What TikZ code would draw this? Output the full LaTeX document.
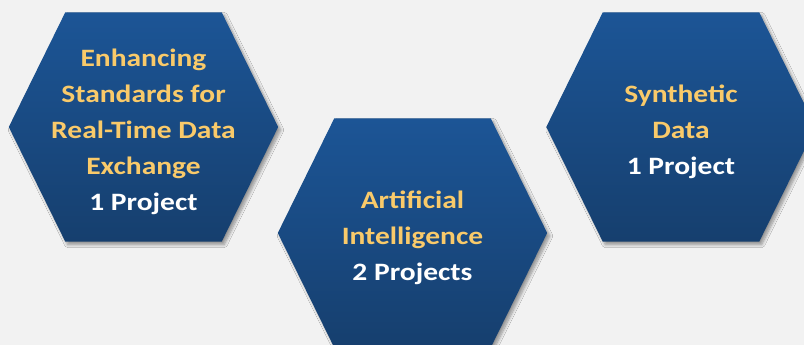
\documentclass[tikz,border=0pt]{standalone}
\usepackage{fontspec}
\setmainfont{Carlito}[FakeStretch=1.18]
\usetikzlibrary{backgrounds,shadows.blur}

\definecolor{pagegray}{RGB}{242,242,242}
\definecolor{hexgold}{RGB}{249,202,106}
\definecolor{hextop}{RGB}{28,85,150}
\definecolor{hexbot}{RGB}{22,63,110}

\begin{document}
\begin{tikzpicture}[x=1pt,y=-1pt,node font=\bfseries\fontsize{25}{36}\selectfont]
	\tikzset{hexcell/.style={rectangle,minimum width=269pt,minimum height=229pt,inner sep=0pt,text=hexgold,align=center},
		hexfill/.style={top color=hextop,bottom color=hexbot,
		blur shadow={shadow xshift=2.5pt,shadow yshift=-3pt,shadow blur radius=3pt,shadow blur steps=8,shadow opacity=40}}}
	\useasboundingbox (0,0) rectangle (804,345);
	
	% text sits 5pt below the middle of each cell
	\node[hexcell] (ESR) at (143.5,132) {Enhancing\\Standards for\\Real-Time Data\\Exchange\\\textcolor{white}{1 Project}};
	\node[hexcell] (AI) at (412.5,238) {Artificial\\Intelligence\\\textcolor{white}{2 Projects}};
	\node[hexcell] (SD) at (681,132) {Synthetic\\Data\\\textcolor{white}{1 Project}};
	
	\begin{scope}[on background layer]
		\fill[pagegray] (0,0) rectangle (804,345);
		\foreach \n in {ESR,AI,SD}
			\path[hexfill] ([yshift=5pt]\n.west) -- ([xshift=56.5pt,yshift=5pt]\n.north west) -- ([xshift=-56.5pt,yshift=5pt]\n.north east)
				-- ([yshift=5pt]\n.east) -- ([xshift=-56.5pt,yshift=5pt]\n.south east) -- ([xshift=56.5pt,yshift=5pt]\n.south west) -- cycle;
	\end{scope}
\end{tikzpicture}
\end{document}
